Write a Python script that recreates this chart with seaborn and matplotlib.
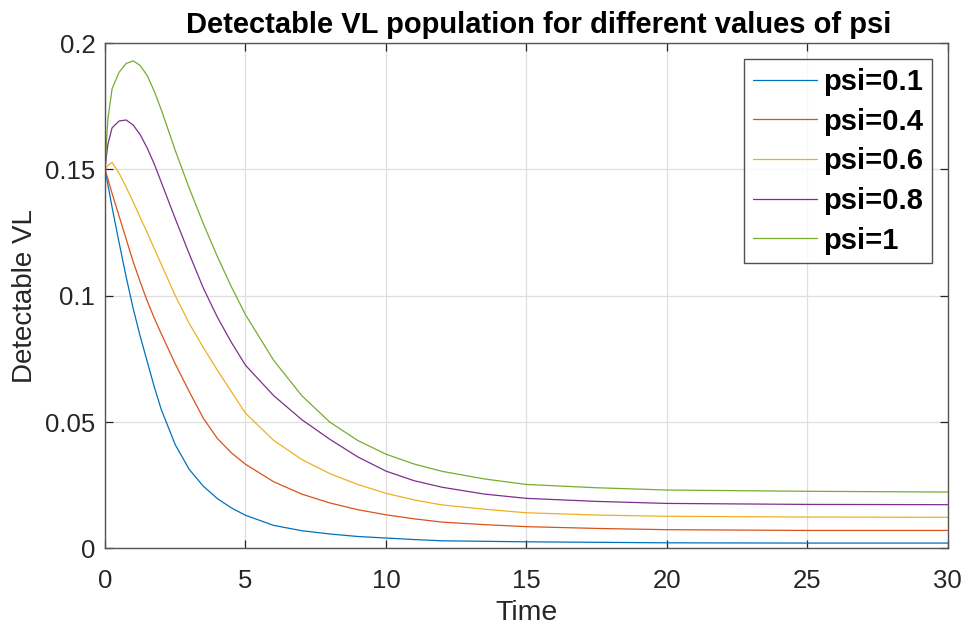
import numpy as np
import pandas as pd
import seaborn as sns
import matplotlib.pyplot as plt

time = [0, 0.05, 0.1, 0.25, 0.5, 0.75, 1.0, 1.25, 1.5, 1.75, 2.0, 2.5, 3.0, 3.5, 4.0, 4.5, 5.0,
        6, 7, 8, 9, 10, 11, 12, 13.5, 15, 17.5, 20, 25, 30]

vl_psi01 = [0.150, 0.1470, 0.1440, 0.1350, 0.1210, 0.1075, 0.0950, 0.0840, 0.0740, 0.0640, 0.0550,
            0.0410, 0.0312, 0.0246, 0.0197, 0.0160, 0.0131, 0.0091, 0.0070, 0.0057, 0.0047,
            0.0041, 0.0035, 0.0030, 0.0028, 0.0026, 0.0024, 0.0022, 0.0021, 0.0021]
vl_psi04 = [0.150, 0.1481, 0.1462, 0.1405, 0.1315, 0.1225, 0.1135, 0.1055, 0.0980, 0.0912, 0.0850,
            0.0730, 0.0620, 0.0515, 0.0435, 0.0378, 0.0333, 0.0264, 0.0215, 0.0180, 0.0153,
            0.0133, 0.0117, 0.0104, 0.0094, 0.0086, 0.0079, 0.0074, 0.0071, 0.0071]
vl_psi06 = [0.150, 0.1509, 0.1516, 0.1528, 0.1485, 0.1430, 0.1372, 0.1310, 0.1250, 0.1187, 0.1125,
            0.1000, 0.0890, 0.0795, 0.0705, 0.0620, 0.0535, 0.0428, 0.0352, 0.0296, 0.0253,
            0.0218, 0.0192, 0.0172, 0.0155, 0.0141, 0.0132, 0.0127, 0.0124, 0.0123]
vl_psi08 = [0.150, 0.1555, 0.1600, 0.1665, 0.1692, 0.1696, 0.1676, 0.1638, 0.1585, 0.1522, 0.1450,
            0.1305, 0.1165, 0.1030, 0.0915, 0.0815, 0.0725, 0.0605, 0.0510, 0.0432, 0.0362,
            0.0306, 0.0268, 0.0242, 0.0215, 0.0198, 0.0186, 0.0178, 0.0174, 0.0173]
vl_psi1 = [0.150, 0.1610, 0.1700, 0.1820, 0.1885, 0.1920, 0.1930, 0.1912, 0.1872, 0.1810, 0.1737,
           0.1575, 0.1425, 0.1285, 0.1155, 0.1035, 0.0925, 0.0745, 0.0605, 0.0500, 0.0427,
           0.0373, 0.0334, 0.0305, 0.0275, 0.0253, 0.0240, 0.0231, 0.0226, 0.0223]

labels = ['psi=0.1', 'psi=0.4', 'psi=0.6', 'psi=0.8', 'psi=1']
series = [vl_psi01, vl_psi04, vl_psi06, vl_psi08, vl_psi1]
colors = ['#0072BD', '#D95319', '#EDB120', '#7E2F8E', '#77AC30']

# Langes Format fuer seaborn
df = pd.concat([pd.DataFrame({'Time': time, 'VL': s, 'psi': lab})
                for s, lab in zip(series, labels)], ignore_index=True)

sns.set_theme(style='whitegrid')
plt.rcParams['font.family'] = ['Liberation Sans', 'DejaVu Sans']

fig = plt.figure(figsize=(9.64, 6.26), dpi=100)
ax = fig.add_axes([0.109, 0.124, 0.874, 0.807])

sns.lineplot(data=df, x='Time', y='VL', hue='psi', palette=colors,
             estimator=None, linewidth=0.9, ax=ax)

ax.set_xlim(0, 30)
ax.set_ylim(0, 0.2)
ax.set_xticks([0, 5, 10, 15, 20, 25, 30])
ax.set_yticks([0, 0.05, 0.1, 0.15, 0.2])
ax.set_yticklabels(['0', '0.05', '0.1', '0.15', '0.2'])

ax.grid(True, color='#dfdfdf', linewidth=0.9)
ax.set_facecolor('white')
for sp in ax.spines.values():
    sp.set_color('#555555')
    sp.set_linewidth(1.0)
ax.tick_params(direction='in', length=6, width=0.9, color='#262626',
               labelsize=18.5, labelcolor='#262626', top=True, right=True,
               bottom=True, left=True)
ax.tick_params(axis='x', pad=15)
ax.tick_params(axis='y', pad=7)

ax.set_xlabel('Time', fontsize=20.5, color='#262626', labelpad=5)
ax.set_ylabel('Detectable VL', fontsize=20, color='#262626', labelpad=5)
ax.set_title('Detectable VL population for different values of psi',
             fontsize=21, fontweight='bold', color='black', pad=7, x=0.515)

leg = ax.legend(loc='upper right', fontsize=21, frameon=True, fancybox=False,
                edgecolor='#262626', handlelength=2.2, handletextpad=0.2,
                labelspacing=0.4, borderaxespad=0.55, borderpad=0.3)
leg.get_frame().set_linewidth(1.0)
for t in leg.get_texts():
    t.set_fontweight('bold')
    t.set_color('black')
for l in leg.get_lines():
    l.set_linewidth(0.9)

plt.savefig('out.png', dpi=100)
plt.close()
